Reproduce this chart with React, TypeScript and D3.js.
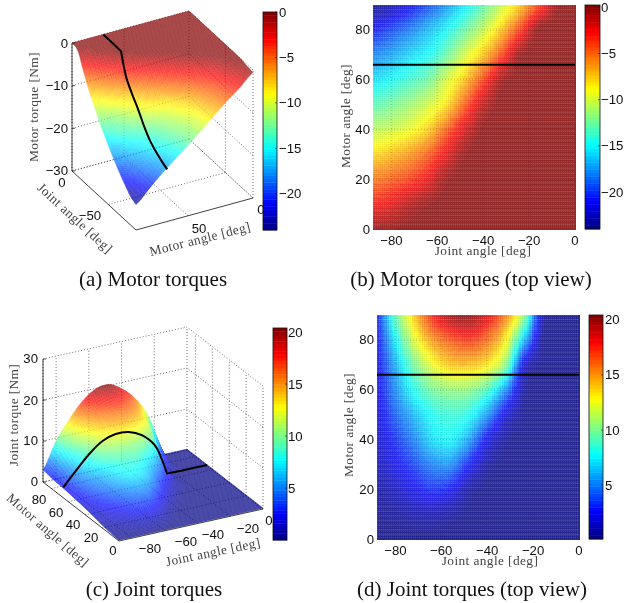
import React from "react";
import * as d3 from "d3";

const jointAngles = [-88, -80, -72, -64, -56, -48, -40, -32, -24, -16, -8, 0];
const motorAngles = [0, 10, 20, 30, 40, 50, 60, 70, 80, 90];

const motorTorque = [
  [-0.6, -0.4, -0.1, 0, 0, 0, 0, 0, 0, 0, 0, 0],
  [-3.2, -2.5, -1.2, -0.4, 0, 0, 0, 0, 0, 0, 0, 0],
  [-5.6, -4.9, -4, -2.6, -0.5, 0, 0, 0, 0, 0, 0, 0],
  [-8.2, -7.4, -6.4, -4.9, -2.5, -0.4, 0, 0, 0, 0, 0, 0],
  [-10.9, -10.4, -9.5, -7.9, -5, -2.1, -0.2, 0, 0, 0, 0, 0],
  [-13.4, -12.6, -11.6, -10.3, -8.3, -4.8, -1.5, 0, 0, 0, 0, 0],
  [-15.9, -15.1, -14, -12.8, -10.2, -7.6, -4.2, -0.8, 0, 0, 0, 0],
  [-18.4, -17.5, -16.2, -15.1, -13, -10.2, -7.6, -4.2, -0.5, 0, 0, 0],
  [-21.2, -20, -18.6, -17, -15.2, -13, -10.6, -7.6, -4, -0.2, 0, 0],
  [-24, -23.2, -21.6, -19.8, -17.8, -15.6, -13.2, -10.5, -7.6, -4.2, -0.5, 0],
];

const jointTorque = [
  [0.2, 0.2, 0.2, 0.2, 0.2, 0.2, 0.2, 0.2, 0.2, 0.2, 0.2, 0.2],
  [0.4, 0.6, 0.9, 1.1, 0.7, 0.3, 0.2, 0.2, 0.2, 0.2, 0.2, 0.2],
  [0.7, 1.4, 2.3, 3.1, 2.6, 0.8, 0.2, 0.2, 0.2, 0.2, 0.2, 0.2],
  [1.2, 2.3, 3.6, 5, 5.3, 2.8, 0.8, 0.2, 0.2, 0.2, 0.2, 0.2],
  [1.6, 3.2, 5, 7, 7.6, 5.8, 2.4, 0.6, 0.2, 0.2, 0.2, 0.2],
  [1.9, 4.2, 6.2, 7.9, 8.5, 8, 5.5, 2, 0.4, 0.2, 0.2, 0.2],
  [2.2, 5.2, 8, 9.8, 10.6, 10.4, 9, 5.4, 0.7, 0.2, 0.2, 0.2],
  [2.4, 6, 9.7, 12.4, 14, 14.2, 13.2, 10.2, 2, 0.3, 0.2, 0.2],
  [2.6, 7.5, 12, 15, 16.5, 17.2, 16, 13, 6.5, 0.5, 0.2, 0.2],
  [3, 9.3, 13.8, 17.5, 19.8, 20.3, 18.5, 15.5, 10.5, 1.2, 0.2, 0.2],
];

const lineMotorAngle = 66;
const lineJoints = [-88, -80, -72, -64, -56, -48, -40, -32, -28, -24.6, -16, -8, 0];
const lineMotorTorque = [-17.8, -17, -16, -14.7, -12.6, -10, -7.8, -5.2, -2.8, -0.1, 0, 0, 0];
const lineJointTorque = [2.5, 6, 9.3, 11.7, 12.7, 12.5, 11, 7.8, 4.3, 0.3, 0.2, 0.2, 0.2];

const motorBarTicks = [0, -5, -10, -15, -20];
const jointBarTicks = [5, 10, 15, 20];
const topJointTicks = [-80, -60, -40, -20, 0];
const topMotorTicks = [0, 20, 40, 60, 80];

const SANS = "'Liberation Sans', Arial, sans-serif";
const SERIF = "'Liberation Serif', 'Times New Roman', serif";
const fmt = (v: number) => String(v).replace("-", "\u2212");

function jet(t: number) {
  const i = Math.max(0, Math.min(63, Math.floor(t * 64)));
  const x = (i + 0.5) / 64;
  const c = (v: number) => Math.round(255 * Math.max(0, Math.min(1, v)));
  return `rgb(${c(Math.min(4 * x - 1.5, -4 * x + 4.5))},${c(Math.min(4 * x - 0.5, -4 * x + 3.5))},${c(Math.min(4 * x + 0.5, -4 * x + 2.5))})`;
}

function cr(a: number, b: number, c: number, d: number, t: number) {
  return 0.5 * (2 * b + (c - a) * t + (2 * a - 5 * b + 4 * c - d) * t * t + (3 * b - a - 3 * c + d) * t * t * t);
}

function sample(grid: number[][], j: number, m: number) {
  const nj = jointAngles.length;
  const nm = motorAngles.length;
  const fi = d3.scaleLinear(jointAngles, jointAngles.map((_, i) => i)).clamp(true)(j);
  const fk = d3.scaleLinear(motorAngles, motorAngles.map((_, i) => i)).clamp(true)(m);
  const i0 = Math.min(Math.floor(fi), nj - 2);
  const k0 = Math.min(Math.floor(fk), nm - 2);
  const a = fi - i0;
  const b = fk - k0;
  const row = (k: number) => {
    const r = grid[Math.max(0, Math.min(nm - 1, k))];
    return cr(r[Math.max(0, i0 - 1)], r[i0], r[i0 + 1], r[Math.min(nj - 1, i0 + 2)], a);
  };
  const v = cr(row(k0 - 1), row(k0), row(k0 + 1), row(k0 + 2), b);
  const all = grid.flat();
  return Math.max(d3.min(all) as number, Math.min(d3.max(all) as number, v));
}

function Label(p: any) {
  const { x, y, rot = 0, children, size = 13.4, fill = "#444", font = SERIF, anchor = "middle", spacing = 0.38 } = p;
  return (
    <text
      transform={`translate(${x},${y}) rotate(${rot})`}
      textAnchor={anchor}
      dominantBaseline="central"
      fontFamily={font}
      fontSize={size}
      fill={fill}
      letterSpacing={spacing}
    >
      {children}
    </text>
  );
}

function Tick(p: any) {
  return <Label {...p} font={SANS} size={13.2} fill="#111" spacing={0} />;
}

function Caption(p: any) {
  return <Label {...p} size={21} fill="#111" spacing={0} />;
}

function Colorbar({ x, y, w, h, domain, ticks, labelX }: any) {
  const sc = d3.scaleLinear(domain, [y + h, y]);
  const bands = d3.range(64);
  return (
    <g>
      {bands.map((i) => (
        <rect key={i} x={x} y={y + h - ((i + 1) * h) / 64} width={w} height={h / 64 + 0.4} fill={jet((i + 0.5) / 64)} />
      ))}
      <rect x={x} y={y} width={w} height={h} fill="none" stroke="#111" strokeWidth={0.8} />
      {ticks.map((t: number) => (
        <g key={t}>
          <line x1={x + w - 2} x2={x + w} y1={sc(t)} y2={sc(t)} stroke="#111" strokeWidth={0.6} />
          <Tick x={labelX} y={sc(t)} anchor="start">{fmt(t)}</Tick>
        </g>
      ))}
    </g>
  );
}

function TopView({ id, x, y, w, h, grid, domain, jointLabel, motorLabel, yTickX, xTickY }: any) {
  const sx = d3.scaleLinear([-88, 0], [x, x + w]);
  const sy = d3.scaleLinear([0, 90], [y + h, y]);
  const sc = d3.scaleLinear(domain, [0, 1]).clamp(true);
  const step = 2.5;
  const cols = d3.range(Math.round(w / step));
  const rows = d3.range(Math.round(h / step));
  const cw = w / cols.length;
  const ch = h / rows.length;
  const linesH = d3.range(0, h, 4.67);
  return (
    <g>
      <defs>
        <pattern id={id} width={2} height={2} patternUnits="userSpaceOnUse" patternTransform={`translate(${x},${y})`}>
          <rect x={0} y={0} width={1} height={1} fill="#fff" fillOpacity={0.12} />
          <rect x={1} y={1} width={1} height={1} fill="#000" fillOpacity={0.05} />
        </pattern>
      </defs>
      <g opacity={0.84} shapeRendering="crispEdges">
        {cols.map((i) =>
          rows.map((k) => (
            <rect
              key={i + "-" + k}
              x={x + i * cw}
              y={y + k * ch}
              width={cw + 0.5}
              height={ch + 0.5}
              fill={jet(sc(sample(grid, sx.invert(x + (i + 0.5) * cw), sy.invert(y + (k + 0.5) * ch))))}
            />
          ))
        )}
      </g>
      <rect x={x} y={y} width={w} height={h} fill={`url(#${id})`} />
      {linesH.map((d) => (
        <line key={d} x1={x} x2={x + w} y1={y + d} y2={y + d} stroke="#fff" strokeOpacity={0.12} strokeWidth={1} />
      ))}
      {topJointTicks.slice(0, -1).map((t) => (
        <line key={t} x1={sx(t)} x2={sx(t)} y1={y} y2={y + h} stroke="#333" strokeOpacity={0.35} strokeWidth={0.7} strokeDasharray="1 2" />
      ))}
      {topMotorTicks.slice(1).map((t) => (
        <line key={t} x1={x} x2={x + w} y1={sy(t)} y2={sy(t)} stroke="#333" strokeOpacity={0.35} strokeWidth={0.7} strokeDasharray="1 2" />
      ))}
      <line x1={x} x2={x + w} y1={sy(lineMotorAngle)} y2={sy(lineMotorAngle)} stroke="#000" strokeWidth={2} />
      {topJointTicks.map((t) => (
        <Tick key={t} x={sx(t)} y={xTickY}>{fmt(t)}</Tick>
      ))}
      {topMotorTicks.map((t) => (
        <Tick key={t} x={yTickX} y={sy(t)} anchor="end">{fmt(t)}</Tick>
      ))}
      <Label x={jointLabel[0]} y={jointLabel[1]}>Joint angle [deg]</Label>
      <Label x={motorLabel[0]} y={motorLabel[1]} rot={-90}>Motor angle [deg]</Label>
    </g>
  );
}

function Surface3D({ O, A, B, H, zDom, grid, domain, mFrom, wallM, jTicks, mTicks, zTicks, line, N = 72 }: any) {
  const u = d3.scaleLinear([-88, 0], [0, 1]);
  const v = d3.scaleLinear([0, 90], [0, 1]);
  const w = d3.scaleLinear(zDom, [0, 1]);
  const P = (j: number, m: number, z: number): [number, number] => [
    O[0] + u(j) * A[0] + v(m) * B[0],
    O[1] + u(j) * A[1] + v(m) * B[1] - w(z) * H,
  ];
  const sc = d3.scaleLinear(domain, [0, 1]).clamp(true);
  const js = d3.range(N + 1).map((i) => -(88 * i) / N);
  const ms = d3.range(N + 1).map((i) => (mFrom === 0 ? (90 * i) / N : 90 - (90 * i) / N));
  const seg = (a: [number, number], b: [number, number], k: string) => (
    <line key={k} x1={a[0]} y1={a[1]} x2={b[0]} y2={b[1]} stroke="#333" strokeWidth={0.7} strokeDasharray="1 2" />
  );
  const [z0, z1] = zDom;
  const grids: any[] = [];
  zTicks.forEach((z: number) => {
    grids.push(seg(P(-88, wallM, z), P(0, wallM, z), "zm" + z));
    grids.push(seg(P(0, 0, z), P(0, 90, z), "zj" + z));
  });
  jTicks.forEach((j: number) => {
    grids.push(seg(P(j, wallM, z0), P(j, wallM, z1), "vj" + j));
    grids.push(seg(P(j, 0, z0), P(j, 90, z0), "fj" + j));
  });
  mTicks.forEach((m: number) => {
    grids.push(seg(P(0, m, z0), P(0, m, z1), "vm" + m));
    grids.push(seg(P(-88, m, z0), P(0, m, z0), "fm" + m));
  });
  const otherM = wallM === 0 ? 90 : 0;
  grids.push(seg(P(0, wallM, z0), P(0, wallM, z1), "corner"));
  grids.push(seg(P(0, otherM, z0), P(0, otherM, z1), "edge1"));
  grids.push(seg(P(-88, wallM, z0), P(-88, wallM, z1), "edge2"));
  grids.push(seg(P(0, otherM, z0), P(0, wallM, z0), "edge3"));
  grids.push(seg(P(0, wallM, z0), P(-88, wallM, z0), "edge4"));

  const field = ms.map((m) => js.map((j) => sample(grid, j, m)));
  const polys: any[] = [];
  for (let a = 0; a < N; a++) {
    for (let b = 0; b < N; b++) {
      const m0 = ms[a], m1 = ms[a + 1], j0 = js[b], j1 = js[b + 1];
      const pts = [
        P(j0, m0, field[a][b]),
        P(j1, m0, field[a][b + 1]),
        P(j1, m1, field[a + 1][b + 1]),
        P(j0, m1, field[a + 1][b]),
      ];
      const c = jet(sc((field[a][b] + field[a][b + 1] + field[a + 1][b + 1] + field[a + 1][b]) / 4));
      polys.push(<polygon key={a + "-" + b} points={pts.map((p) => p.join(",")).join(" ")} fill={c} stroke={c} strokeWidth={0.5} />);
    }
  }
  const pts = lineJoints.map((j, i) => P(j, lineMotorAngle, line[i]));
  const kink = 9;
  const curved = d3.line().curve(d3.curveCatmullRom.alpha(0.5))(pts.slice(0, kink + 1) as any) as string;
  const flat = d3.line()(pts.slice(kink) as any) as string;
  return (
    <g>
      {grids}
      <g opacity={0.74}>{polys}</g>
      <path d={curved + flat.replace(/^M/, "L")} fill="none" stroke="#000" strokeWidth={2} strokeLinejoin="round" />
    </g>
  );
}

function AxesLines({ pts, ticks }: any) {
  return (
    <g>
      <polyline points={pts.map((p: number[]) => p.join(",")).join(" ")} fill="none" stroke="#111" strokeWidth={0.8} />
      {ticks.map((t: number[], i: number) => (
        <line key={i} x1={t[0]} y1={t[1]} x2={t[2]} y2={t[3]} stroke="#111" strokeWidth={0.7} />
      ))}
    </g>
  );
}

export default function App() {
  return (
    <svg
      width={626}
      height={603}
      viewBox="0 0 626 603"
      style={{ position: "absolute", left: 0, top: 0, background: "#fff", filter: "blur(0.35px)" }}
    >
      {/* (a) */}
      <Surface3D
        O={[253, 198]}
        A={[-64, -59]}
        B={[-117, 32]}
        H={128}
        zDom={[-30, 0]}
        grid={motorTorque}
        domain={[-24.3, 0]}
        mFrom={0}
        wallM={0}
        jTicks={[-50]}
        mTicks={[50]}
        zTicks={[0, -10, -20, -30]}
        line={lineMotorTorque}
      />
      <AxesLines
        pts={[[72, 43], [72, 171], [136, 230], [253, 198]]}
        ticks={[[72, 43, 75, 43], [72, 85.7, 75, 85.7], [72, 128.3, 75, 128.3], [72, 171, 75, 171]]}
      />
      <Tick x={68} y={43} anchor="end">0</Tick>
      <Tick x={68} y={85} anchor="end">{"\u221210"}</Tick>
      <Tick x={68} y={128} anchor="end">{"\u221220"}</Tick>
      <Tick x={68} y={170} anchor="end">{"\u221230"}</Tick>
      <Tick x={62} y={182}>0</Tick>
      <Tick x={90} y={215}>{"\u221250"}</Tick>
      <Tick x={199} y={228}>50</Tick>
      <Tick x={261} y={209}>0</Tick>
      <Label x={33} y={107} rot={-90}>Motor torque [Nm]</Label>
      <Label x={75} y={218} rot={42.5}>Joint angle [deg]</Label>
      <Label x={200} y={239} rot={-14.2}>Motor angle [deg]</Label>
      <Colorbar x={263} y={12} w={14} h={218} domain={[-24, 0]} ticks={motorBarTicks} labelX={279} />

      {/* (b) */}
      <TopView
        id="pb"
        x={373}
        y={5}
        w={202}
        h={224}
        grid={motorTorque}
        domain={[-24.3, 0]}
        jointLabel={[483, 250]}
        motorLabel={[345, 116]}
        yTickX={370}
        xTickY={240}
      />
      <Colorbar x={585} y={5} w={15} h={224} domain={[-24, 0.25]} ticks={motorBarTicks} labelX={601} />

      {/* (c) */}
      <Surface3D
        O={[119, 541]}
        A={[144, -32]}
        B={[-76, -59]}
        H={123}
        zDom={[0, 30]}
        grid={jointTorque}
        domain={[0, 20.4]}
        mFrom={90}
        wallM={90}
        jTicks={[-80, -60, -40, -20]}
        mTicks={[20, 40, 60, 80]}
        zTicks={[0, 10, 20, 30]}
        line={lineJointTorque}
      />
      <AxesLines
        pts={[[43, 359], [43, 482], [119, 541], [263, 509]]}
        ticks={[[43, 359, 46, 359], [43, 400, 46, 400], [43, 441, 46, 441], [43, 482, 46, 482]]}
      />
      <Tick x={38} y={358} anchor="end">30</Tick>
      <Tick x={38} y={400} anchor="end">20</Tick>
      <Tick x={38} y={440} anchor="end">10</Tick>
      <Tick x={38} y={481} anchor="end">0</Tick>
      <Tick x={39} y={499}>80</Tick>
      <Tick x={56} y={512}>60</Tick>
      <Tick x={73} y={524}>40</Tick>
      <Tick x={91} y={537}>20</Tick>
      <Tick x={113} y={550}>0</Tick>
      <Tick x={150} y={548}>{"\u221280"}</Tick>
      <Tick x={186} y={541}>{"\u221260"}</Tick>
      <Tick x={213} y={534}>{"\u221240"}</Tick>
      <Tick x={248} y={528}>{"\u221220"}</Tick>
      <Tick x={269} y={520}>0</Tick>
      <Label x={13} y={415} rot={-90}>Joint torque [Nm]</Label>
      <Label x={48} y={530} rot={41}>Motor angle [deg]</Label>
      <Label x={213} y={552} rot={-11.7}>Joint angle [deg]</Label>
      <Colorbar x={273} y={328} w={14} h={212} domain={[0, 20.4]} ticks={jointBarTicks} labelX={288} />

      {/* (d) */}
      <TopView
        id="pd"
        x={377}
        y={315}
        w={202}
        h={224}
        grid={jointTorque}
        domain={[0.1, 20.45]}
        jointLabel={[490, 560]}
        motorLabel={[348, 425]}
        yTickX={374}
        xTickY={550}
      />
      <Colorbar x={589} y={315} w={14} h={224} domain={[0.1, 20.45]} ticks={jointBarTicks} labelX={605} />

      <Caption x={153} y={279}>(a) Motor torques</Caption>
      <Caption x={471} y={279}>(b) Motor torques (top view)</Caption>
      <Caption x={154} y={589}>(c) Joint torques</Caption>
      <Caption x={472} y={589}>(d) Joint torques (top view)</Caption>
    </svg>
  );
}
